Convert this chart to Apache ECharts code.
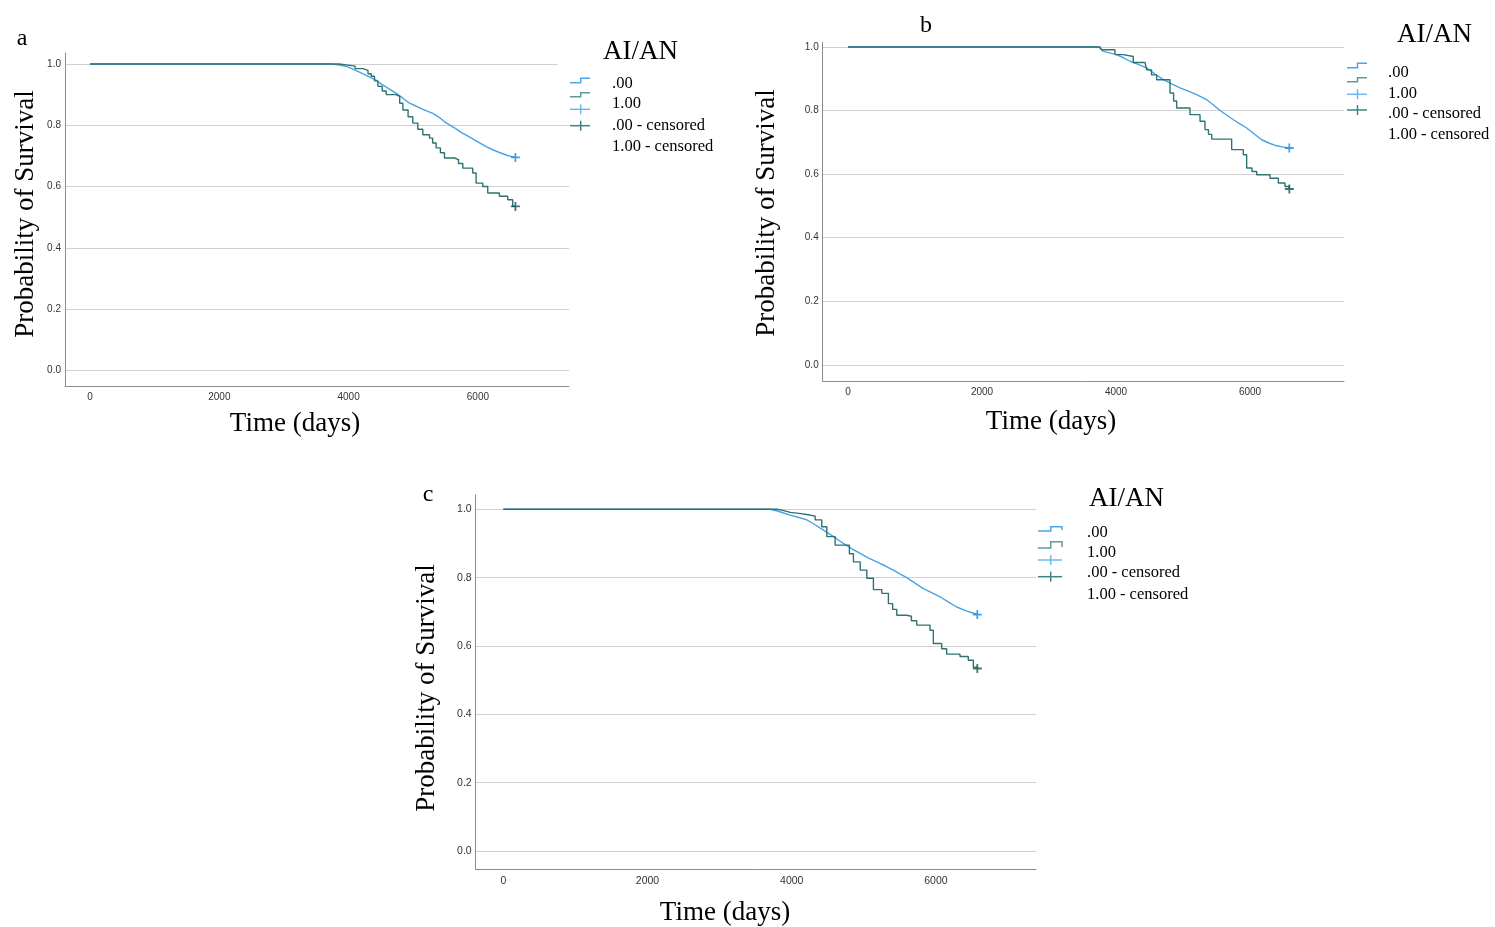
<!DOCTYPE html>
<html><head><meta charset="utf-8">
<script src="https://cdn.jsdelivr.net/npm/echarts@6/dist/echarts.min.js"></script>
<style>html,body{margin:0;padding:0;background:#fff}#c{width:1495px;height:927px}</style>
</head><body><div id="c"></div>
<script>
// ---- data ----
const yTicks = [0, 0.2, 0.4, 0.6, 0.8, 1.0];
const xTicks = [0, 2000, 4000, 6000];
const legendTitle = 'AI/AN';
const legendLabels = ['.00', '1.00', '.00 - censored', '1.00 - censored'];
const panelLetters = ['a', 'b', 'c'];
const xTitle = 'Time (days)';
const yTitle = 'Probability of Survival';

const aBlue = [[0,1],[3700,1],[3800,0.998],[3900,0.995],[3964,0.992],[4050,0.985],[4150,0.975],[4250,0.965],[4350,0.955],[4427,0.947],[4500,0.935],[4600,0.922],[4700,0.909],[4736,0.904],[4830,0.89],[4942,0.872],[5050,0.862],[5150,0.852],[5302,0.839],[5400,0.826],[5480,0.812],[5560,0.801],[5650,0.79],[5740,0.777],[5818,0.768],[5900,0.758],[6000,0.746],[6127,0.730],[6230,0.72],[6332,0.711],[6450,0.702],[6540,0.697],[6580,0.695]];
const aTeal = [[0,1],[3750,1],[3850,0.997],[3964,0.993],[4100,0.985],[4221,0.979],[4300,0.968],[4350,0.960],[4400,0.945],[4453,0.927],[4520,0.912],[4582,0.900],[4736,0.894],[4790,0.872],[4839,0.850],[4920,0.828],[4993,0.807],[5070,0.787],[5148,0.769],[5251,0.758],[5300,0.742],[5354,0.726],[5420,0.71],[5483,0.693],[5637,0.688],[5700,0.675],[5766,0.660],[5920,0.644],[5972,0.611],[6075,0.600],[6152,0.579],[6332,0.568],[6461,0.557],[6538,0.535],[6580,0.535]];
const aCensorBlue = [[6580, 0.695]];
const aCensorTeal = [[6580, 0.535]];

const bBlue = [[0,1],[3740,1],[3811,0.986],[4010,0.976],[4110,0.966],[4209,0.955],[4330,0.945],[4458,0.934],[4580,0.915],[4706,0.897],[4830,0.884],[4955,0.871],[5080,0.861],[5204,0.850],[5353,0.834],[5450,0.818],[5552,0.800],[5650,0.786],[5751,0.771],[5850,0.758],[5950,0.745],[6060,0.727],[6174,0.708],[6290,0.697],[6398,0.689],[6500,0.685],[6587,0.682]];
const bTeal = [[0,1],[3760,1],[3786,0.991],[3985,0.976],[4109,0.970],[4258,0.951],[4433,0.951],[4458,0.928],[4530,0.912],[4607,0.897],[4731,0.897],[4806,0.855],[4860,0.83],[4905,0.808],[5104,0.787],[5254,0.766],[5328,0.740],[5380,0.725],[5428,0.710],[5652,0.710],[5726,0.677],[5900,0.661],[5950,0.619],[6030,0.608],[6100,0.598],[6299,0.587],[6423,0.572],[6522,0.561],[6587,0.553]];
const bCensorBlue = [[6587, 0.682]];
const bCensorTeal = [[6587, 0.553]];

const cBlue = [[0,1],[3700,1],[3800,0.995],[3978,0.983],[4100,0.976],[4209,0.969],[4330,0.954],[4440,0.939],[4580,0.92],[4717,0.900],[4830,0.885],[4948,0.871],[5060,0.858],[5179,0.846],[5300,0.834],[5410,0.822],[5500,0.811],[5595,0.800],[5710,0.784],[5826,0.768],[5940,0.756],[6057,0.744],[6170,0.729],[6288,0.714],[6430,0.702],[6574,0.692]];
const cTeal = [[0,1],[3720,1],[3800,0.996],[3890,0.991],[3978,0.988],[4100,0.984],[4232,0.980],[4325,0.969],[4417,0.949],[4487,0.920],[4602,0.895],[4740,0.895],[4800,0.87],[4856,0.846],[4950,0.822],[5041,0.798],[5133,0.765],[5249,0.754],[5341,0.724],[5400,0.707],[5457,0.690],[5595,0.687],[5660,0.674],[5734,0.661],[5918,0.646],[5964,0.607],[6080,0.592],[6149,0.576],[6334,0.569],[6449,0.558],[6519,0.538],[6574,0.534]];
const cCensorBlue = [[6574, 0.692]];
const cCensorTeal = [[6574, 0.534]];

// ---- layout / style ----
const BLUE = '#45A3E6', TEAL = '#2E7371', BLUE_C = '#1F8AE0', TEAL_C = '#0F5553';
const panels = [
  {left:65, top:53, width:504, height:333, xmin:-387, xmax:7409, ymin:-0.0513, ymax:1.0359, fs:10,
   blue:aBlue, teal:aTeal, cb:aCensorBlue, ct:aCensorTeal,
   letter:[22,39], xt:[295,424], yt:[26,214],
   lg:{tx:603, ty:52, ix:612, rows:[83.5,104,125.5,146.5], x0:570, xm:580.7, x1:590,
       s1:[82.7,78.3], s2:[96.7,92.7], p3:109.3, p4:125.7, tail:false}},
  {left:822.7, top:42.5, width:521.3, height:338.5, xmin:-378, xmax:7403, ymin:-0.051, ymax:1.014, fs:10,
   blue:bBlue, teal:bTeal, cb:bCensorBlue, ct:bCensorTeal,
   letter:[926,26], xt:[1051,422], yt:[767,213],
   lg:{tx:1397, ty:35, ix:1388, rows:[73,93.5,114,134.5], x0:1347, xm:1357.5, x1:1367,
       s1:[67.7,63.3], s2:[81.7,77.7], p3:94.3, p4:110, tail:false}},
  {left:475.7, top:495, width:560.3, height:374.3, xmin:-383, xmax:7388, ymin:-0.0536, ymax:1.0418, fs:10.5,
   blue:cBlue, teal:cTeal, cb:cCensorBlue, ct:cCensorTeal,
   letter:[428,495], xt:[725,913], yt:[427,688],
   lg:{tx:1089, ty:499, ix:1087, rows:[533,553,573,594.5], x0:1038, xm:1050.7, x1:1062,
       s1:[531,526.7], s2:[548,541.7], p3:560, p4:576.7, tail:true}}
];
const PLUS = 'path://M4,0H6V4H10V6H6V10H4V6H0V4H4Z';
const SERIF = '"Liberation Serif","Times New Roman",serif';
const SANS = '"Liberation Sans",Arial,sans-serif';

const grid = [], xAxis = [], yAxis = [], series = [], graphic = [];
panels.forEach((p, i) => {
  grid.push({left:p.left, top:p.top, width:p.width, height:p.height, containLabel:false, outerBoundsMode:'none'});
  xAxis.push({type:'value', gridIndex:i, min:p.xmin, max:p.xmax,
    axisLine:{show:true, onZero:false, lineStyle:{color:'#8c8c8c', width:1}},
    axisTick:{show:false, customValues:xTicks},
    axisLabel:{customValues:xTicks, margin:6, fontSize:p.fs, color:'#333', fontFamily:SANS,
      formatter: v => String(Math.round(v))},
    splitLine:{show:false}});
  yAxis.push({type:'value', gridIndex:i, min:p.ymin, max:p.ymax,
    axisLine:{show:true, onZero:false, lineStyle:{color:'#8c8c8c', width:1}},
    axisTick:{show:false, customValues:yTicks},
    axisLabel:{customValues:yTicks, margin:4, fontSize:p.fs, color:'#333', fontFamily:SANS,
      formatter: v => v.toFixed(1)},
    splitLine:{show:true, lineStyle:{color:'#d0d0d0', width:1}}});
  series.push({type:'line', name:'.00', xAxisIndex:i, yAxisIndex:i, data:p.blue, symbol:'none',
    lineStyle:{color:BLUE, width:1.4}, itemStyle:{color:BLUE}, silent:true});
  series.push({type:'line', name:'1.00', xAxisIndex:i, yAxisIndex:i, data:p.teal, step:'end', symbol:'none',
    lineStyle:{color:TEAL, width:1.4}, itemStyle:{color:TEAL}, silent:true});
  series.push({type:'scatter', name:'.00 - censored', xAxisIndex:i, yAxisIndex:i, data:p.cb, symbol:PLUS, symbolSize:9,
    itemStyle:{color:BLUE_C}, silent:true, z:5});
  series.push({type:'scatter', name:'1.00 - censored', xAxisIndex:i, yAxisIndex:i, data:p.ct, symbol:PLUS, symbolSize:9,
    itemStyle:{color:TEAL_C}, silent:true, z:5});

  // panel letter & axis titles
  graphic.push({type:'text', x:p.letter[0], y:p.letter[1], style:{text:panelLetters[i], font:'24px '+SERIF, fill:'#000', align:'center', verticalAlign:'middle'}});
  graphic.push({type:'text', x:p.xt[0], y:p.xt[1], style:{text:xTitle, font:'27px '+SERIF, fill:'#000', align:'center', verticalAlign:'middle'}});
  graphic.push({type:'text', x:p.yt[0], y:p.yt[1], rotation:Math.PI/2, style:{text:yTitle, font:'27px '+SERIF, fill:'#000', align:'center', verticalAlign:'middle'}});

  // legend
  const L = p.lg;
  graphic.push({type:'text', x:L.tx, y:L.ty, style:{text:legendTitle, font:'27px '+SERIF, fill:'#000', align:'left', verticalAlign:'middle'}});
  legendLabels.forEach((t, k) => {
    graphic.push({type:'text', x:L.ix, y:L.rows[k], style:{text:t, font:'16.5px '+SERIF, fill:'#000', align:'left', verticalAlign:'middle'}});
  });
  const stepPts = s => {
    const pts = [[L.x0, s[0]], [L.xm, s[0]], [L.xm, s[1]], [L.x1, s[1]]];
    if (L.tail) pts.push([L.x1, s[0]-1]);
    return pts;
  };
  graphic.push({type:'polyline', shape:{points:stepPts(L.s1)}, style:{stroke:'#4AA5EA', lineWidth:1.5, fill:null}});
  graphic.push({type:'polyline', shape:{points:stepPts(L.s2)}, style:{stroke:'#5E9C98', lineWidth:1.5, fill:null}});
  [[L.p3, '#6DB8EE'], [L.p4, '#3E8480']].forEach(([y, col]) => {
    graphic.push({type:'line', shape:{x1:L.x0, y1:y, x2:L.x1, y2:y}, style:{stroke:col, lineWidth:1.5}});
    graphic.push({type:'line', shape:{x1:L.xm, y1:y-5, x2:L.xm, y2:y+5}, style:{stroke:col, lineWidth:1.5}});
  });
});
// legend box overlapping top gridline in panel a
graphic.push({type:'rect', shape:{x:558, y:58, width:12, height:12}, style:{fill:'#fff'}, z:100});

const chart = echarts.init(document.getElementById('c'), null, {renderer:'canvas'});
chart.setOption({animation:false, backgroundColor:'#fff', grid, xAxis, yAxis, series, graphic});
</script></body></html>
